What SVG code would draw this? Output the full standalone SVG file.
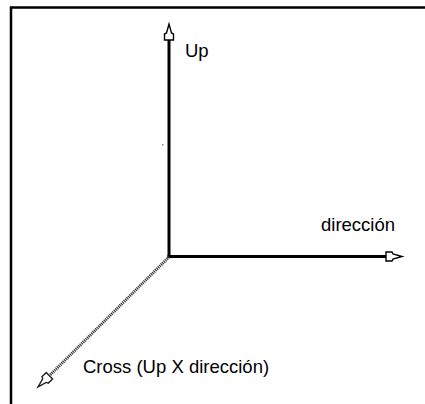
<svg xmlns="http://www.w3.org/2000/svg" width="425" height="404" viewBox="0 0 425 404">
<style>
.lbl{font-family:"Liberation Sans",Arial,sans-serif;font-size:18.5px;fill:#000}
.axis{stroke:#000;stroke-width:3;fill:none}
.diag{stroke:#3a3a3a;stroke-width:3;stroke-dasharray:1.2 0.8;fill:none}
</style>
<defs>
<marker id="arr" markerUnits="userSpaceOnUse" markerWidth="20" markerHeight="12" viewBox="-1 -6 20 12" refX="0" refY="0" orient="auto" overflow="visible">
<path d="M0,-4.5 L6,-4.5 L7,-2.5 L16,0 L7,2.5 L6,4.5 L0,4.5 Z" fill="#fff" stroke="#000" stroke-width="1.4" stroke-linejoin="miter"/>
</marker>
<marker id="arrg" markerUnits="userSpaceOnUse" markerWidth="20" markerHeight="12" viewBox="-1 -6 20 12" refX="0" refY="0" orient="auto" overflow="visible">
<path d="M0,-4.5 L6,-4.5 L7,-2.5 L16,0 L7,2.5 L6,4.5 L0,4.5 Z" fill="#fff" stroke="#222" stroke-width="1.4"/>
</marker>
</defs>
<g id="frame">
<path d="M11,404 L11,7.5 L425,7.5" fill="none" stroke="#000" stroke-width="2.5"/>
</g>
<g id="connectors">
<line id="up-axis" class="axis" x1="169" y1="258" x2="169" y2="40" marker-end="url(#arr)"/>
<line id="dir-axis" class="axis" x1="167.5" y1="256.5" x2="386" y2="256.5" marker-end="url(#arr)"/>
<line id="cross-axis" class="diag" x1="169" y1="257" x2="49.4" y2="375.7" marker-end="url(#arrg)"/>
</g>
<g id="label-up"><text class="lbl" x="185" y="57">Up</text></g>
<g id="label-dir"><text class="lbl" x="321" y="231">dirección</text></g>
<g id="label-cross"><text class="lbl" x="83" y="373">Cross (Up X dirección)</text></g>
<rect x="162" y="144" width="1.5" height="1.5" fill="#888"/>
</svg>
